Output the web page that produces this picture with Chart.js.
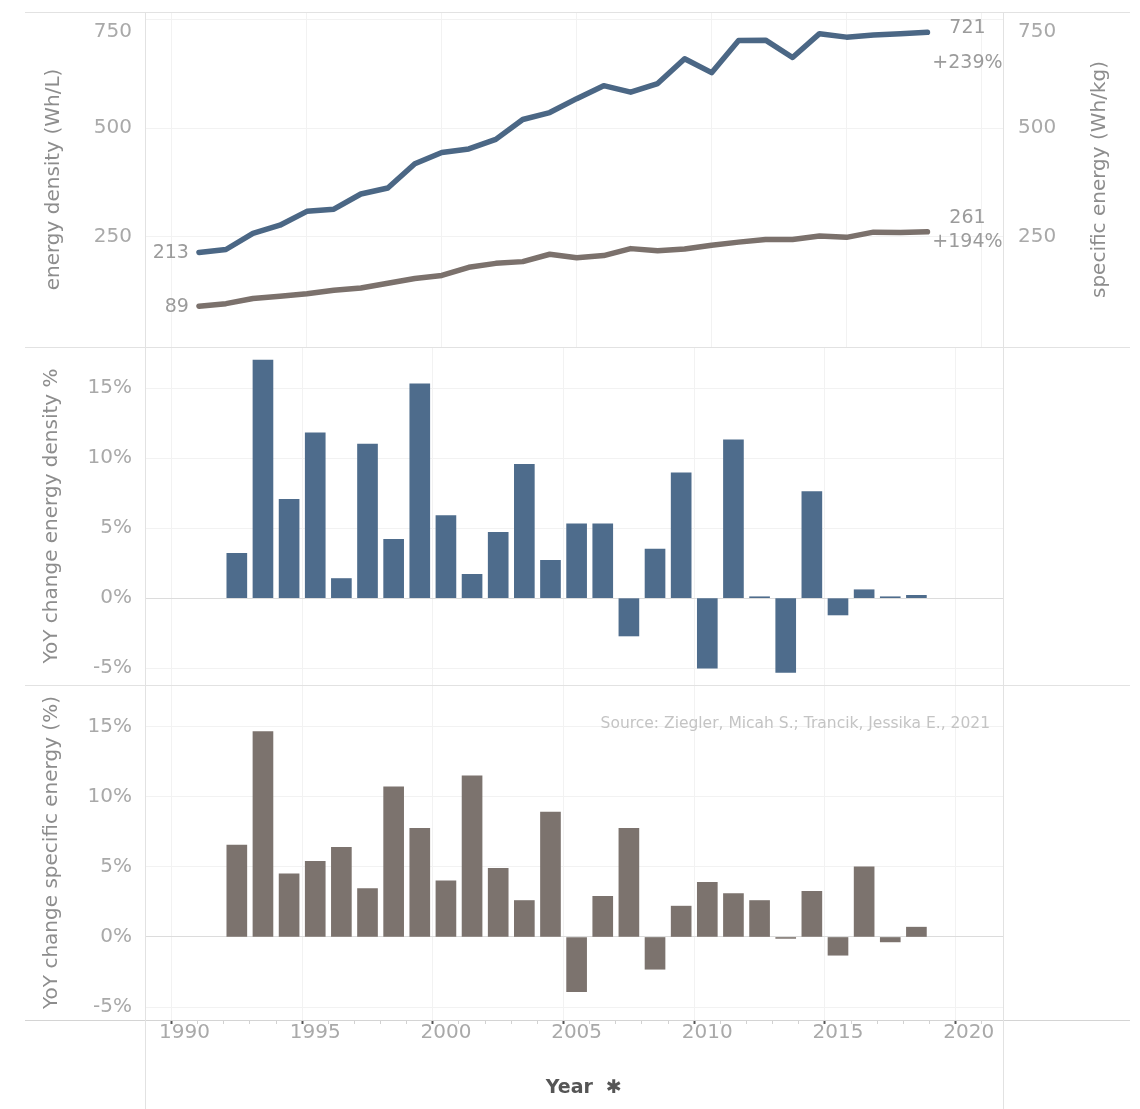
<!DOCTYPE html>
<html>
<head>
<meta charset="utf-8">
<script src="https://cdn.jsdelivr.net/npm/chart.js@4"></script>
<style>
  body { margin: 0; background: #fff; }
  #wrap { position: relative; width: 1140px; height: 1109px; overflow: hidden; }
  .pane { position: absolute; left: 0; width: 1140px; }
  .pane canvas { display: block; }
  .rule { position: absolute; background: #e2e2e2; }
</style>
</head>
<body>
<div id="wrap">
  <div class="pane" style="top:0;height:347px"><canvas id="topChart" width="1140" height="347"></canvas></div>
  <div class="pane" style="top:347px;height:338px"><canvas id="midChart" width="1140" height="338"></canvas></div>
  <div class="pane" style="top:685px;height:424px"><canvas id="botChart" width="1140" height="424"></canvas></div>
  <!-- pane borders -->
  <div class="rule" style="left:25px;top:12px;width:1105px;height:1px"></div>
  <div class="rule" style="left:25px;top:347px;width:1105px;height:1px"></div>
  <div class="rule" style="left:25px;top:685px;width:1105px;height:1px"></div>
  <div class="rule" style="left:25px;top:1020px;width:1105px;height:1px;background:#d4d4d4"></div>
  <div class="rule" style="left:145px;top:12px;width:1px;height:1097px"></div>
  <div class="rule" style="left:1003px;top:12px;width:1px;height:1097px"></div>
</div>
<script>
// years and values
const years = [1991, 1992, 1993, 1994, 1995, 1996, 1997, 1998, 1999, 2000, 2001, 2002, 2003, 2004,
               2005, 2006, 2007, 2008, 2009, 2010, 2011, 2012, 2013, 2014, 2015, 2016, 2017, 2018];
const energyDensity = [213, 220, 257, 276, 308, 313, 348, 362, 418, 444, 452, 474, 520, 536,
                       568, 598, 583, 603, 660, 628, 702, 703, 663, 718, 710, 715, 718, 721];   // Wh/L
const specificEnergy = [89, 95, 107, 112, 118, 126, 131, 142, 153, 160, 179, 188, 192, 209,
                        201, 206, 222, 217, 221, 230, 237, 243, 243, 251, 248, 260, 259, 261]; // Wh/kg
const endChange = ['+239%', '+194%'];

const yoyYears = years.slice(1);
const yoyDensity = [3.2, 17.0, 7.05, 11.8, 1.4, 11.0, 4.2, 15.3, 5.9, 1.7, 4.7, 9.55, 2.7, 5.3,
                    5.3, -2.7, 3.5, 8.95, -5.0, 11.3, 0.1, -5.3, 7.6, -1.2, 0.6, 0.1, 0.2];
const yoySpecific = [6.55, 14.65, 4.5, 5.4, 6.4, 3.45, 10.7, 7.75, 4.0, 11.5, 4.9, 2.6, 8.9, -3.9,
                     2.9, 7.75, -2.3, 2.2, 3.9, 3.1, 2.6, -0.1, 3.25, -1.3, 5.0, -0.35, 0.7];

const yearTicks = [1990, 1995, 2000, 2005, 2010, 2015, 2020];
const energyTicks = [250, 500, 750];
const pctTicks = [-5, 0, 5, 10, 15];

const blueLine = '#4b6785';
const blueBar = '#4e6c8c';
const brownLine = '#7b716c';
const brownBar = '#7c736e';
const tickGrey = '#a9a9a9';
const titleGrey = '#8d8d8d';

Chart.defaults.font.family = "'DejaVu Sans', sans-serif";
Chart.defaults.animation = false;
Chart.defaults.responsive = false;
Chart.defaults.plugins.legend.display = false;
Chart.defaults.plugins.tooltip.enabled = false;

function pairs(xs, ys) {
    return xs.map((x, i) => ({ x: x, y: ys[i] }));
}

function tickVal(c) {
    return c.tick ? c.tick.value : null;
}

function isIn(list, v) {
    return list.some(t => Math.abs(t - v) < 1e-6);
}

// shared year axis; only the bottom pane shows the labels
function yearAxis(withLabels) {
    return {
        type: 'linear', min: 1989, max: 2020.8,
        border: { display: false },
        grid: {
            color: c => isIn(yearTicks, tickVal(c)) ? '#f2f2f2' : 'rgba(0,0,0,0)',
            tickColor: c => isIn(yearTicks, tickVal(c)) ? '#555' : '#d2d2d2',
            tickWidth: c => isIn(yearTicks, tickVal(c)) ? 2 : 1,
            drawTicks: withLabels,
            tickLength: 4
        },
        ticks: {
            display: withLabels, stepSize: 1, autoSkip: false, maxRotation: 0,
            includeBounds: false, padding: -3, color: tickGrey, font: { size: 20 },
            callback: v => isIn(yearTicks, v) ? String(v) : ''
        },
        title: {
            display: withLabels, text: '   Year  ✱', color: '#555',
            font: { size: 19, weight: 'bold' }, padding: { bottom: 10 }
        },
        afterFit: s => {
            s.height = withLabels ? 89 : 0;
            s.paddingLeft = 0;
            s.paddingRight = 0;
        }
    };
}

function fixWidth(w) {
    return s => {
        s.width = w;
        s.paddingTop = 0;
        s.paddingBottom = 0;
    };
}

function pctAxis(min, max, title) {
    return {
        position: 'left', min: min, max: max,
        border: { display: false },
        grid: { color: c => tickVal(c) === 0 ? '#dcdcdc' : '#f2f2f2', drawTicks: false },
        afterBuildTicks: s => { s.ticks = pctTicks.map(v => ({ value: v })); },
        ticks: {
            autoSkip: false, padding: 13, color: tickGrey, font: { size: 20 },
            callback: v => v + '%'
        },
        title: { display: true, text: title, color: titleGrey, font: { size: 20 }, padding: { top: 40 } },
        afterFit: fixWidth(145)
    };
}

function energyAxis(position, pad, width) {
    return {
        position: position, min: -5, max: 768,
        border: { display: false },
        grid: { color: '#f2f2f2', drawOnChartArea: position === 'left', drawTicks: false },
        afterBuildTicks: s => { s.ticks = energyTicks.map(v => ({ value: v })); },
        ticks: {
            autoSkip: false, padding: pad, color: tickGrey, font: { size: 20 },
            // the top label sits one line lower so it stays inside the pane
            callback: v => v === 750 ? ['', String(v)] : String(v)
        },
        title: {
            display: position === 'left', text: 'energy density (Wh/L)',
            color: titleGrey, font: { size: 20 }, padding: { top: 42 }
        },
        afterFit: fixWidth(width)
    };
}

// start value, end value and overall change next to each line
const lineLabels = {
    id: 'lineLabels',
    afterDatasetsDraw(chart) {
        const ctx = chart.ctx;
        const offsets = [[-4, 31], [-14, 10]];
        ctx.save();
        ctx.font = "19px 'DejaVu Sans'";
        ctx.fillStyle = '#9b9b9b';
        ctx.textBaseline = 'middle';
        chart.data.datasets.forEach((ds, i) => {
            const pts = chart.getDatasetMeta(i).data;
            const first = pts[0];
            const last = pts[pts.length - 1];
            ctx.textAlign = 'right';
            ctx.fillText(String(ds.data[0].y), first.x - 10, first.y + 1);
            ctx.textAlign = 'center';
            ctx.fillText(String(ds.data[ds.data.length - 1].y), last.x + 40, last.y + offsets[i][0]);
            ctx.fillText(endChange[i], last.x + 40, last.y + offsets[i][1]);
        });
        // right axis title reads bottom to top like the left one
        const a = chart.chartArea;
        ctx.translate(chart.width - 40, (a.top + a.bottom) / 2);
        ctx.rotate(-Math.PI / 2);
        ctx.font = "20px 'DejaVu Sans'";
        ctx.fillStyle = titleGrey;
        ctx.fillText('specific energy (Wh/kg)', 0, 0);
        ctx.restore();
    }
};

const sourceNote = {
    id: 'sourceNote',
    afterDraw(chart) {
        const ctx = chart.ctx;
        const a = chart.chartArea;
        ctx.save();
        ctx.font = "15.5px 'DejaVu Sans'";
        ctx.fillStyle = '#c4c4c4';
        ctx.textAlign = 'right';
        ctx.textBaseline = 'middle';
        ctx.fillText('Source: Ziegler, Micah S.; Trancik, Jessika E., 2021', a.right - 13, a.top + 39);
        ctx.restore();
    }
};

// top pane: the two lines
new Chart(document.getElementById('topChart'), {
    type: 'line',
    data: {
        datasets: [{
            data: pairs(years, energyDensity), yAxisID: 'y',
            borderColor: blueLine, borderWidth: 5.5, pointRadius: 0,
            borderJoinStyle: 'round', borderCapStyle: 'round'
        }, {
            data: pairs(years, specificEnergy), yAxisID: 'y2',
            borderColor: brownLine, borderWidth: 5.5, pointRadius: 0,
            borderJoinStyle: 'round', borderCapStyle: 'round'
        }]
    },
    options: {
        layout: { padding: { top: 12 } },
        scales: {
            x: yearAxis(false),
            y: energyAxis('left', 13, 145),
            y2: energyAxis('right', 15, 137)
        }
    },
    plugins: [lineLabels]
});

// middle pane: YoY change of energy density
new Chart(document.getElementById('midChart'), {
    type: 'bar',
    data: {
        datasets: [{ data: pairs(yoyYears, yoyDensity), backgroundColor: blueBar, barThickness: 20 }]
    },
    options: {
        layout: { padding: { right: 137 } },
        scales: {
            x: yearAxis(false),
            y: pctAxis(-6.2, 17.93, 'YoY change energy density %')
        }
    }
});

// bottom pane: YoY change of specific energy, with the year axis
new Chart(document.getElementById('botChart'), {
    type: 'bar',
    data: {
        datasets: [{ data: pairs(yoyYears, yoySpecific), backgroundColor: brownBar, barThickness: 20 }]
    },
    options: {
        layout: { padding: { right: 137 } },
        scales: {
            x: yearAxis(true),
            y: pctAxis(-5.92, 17.97, 'YoY change specific energy (%)')
        }
    },
    plugins: [sourceNote]
});
</script>
</body>
</html>
